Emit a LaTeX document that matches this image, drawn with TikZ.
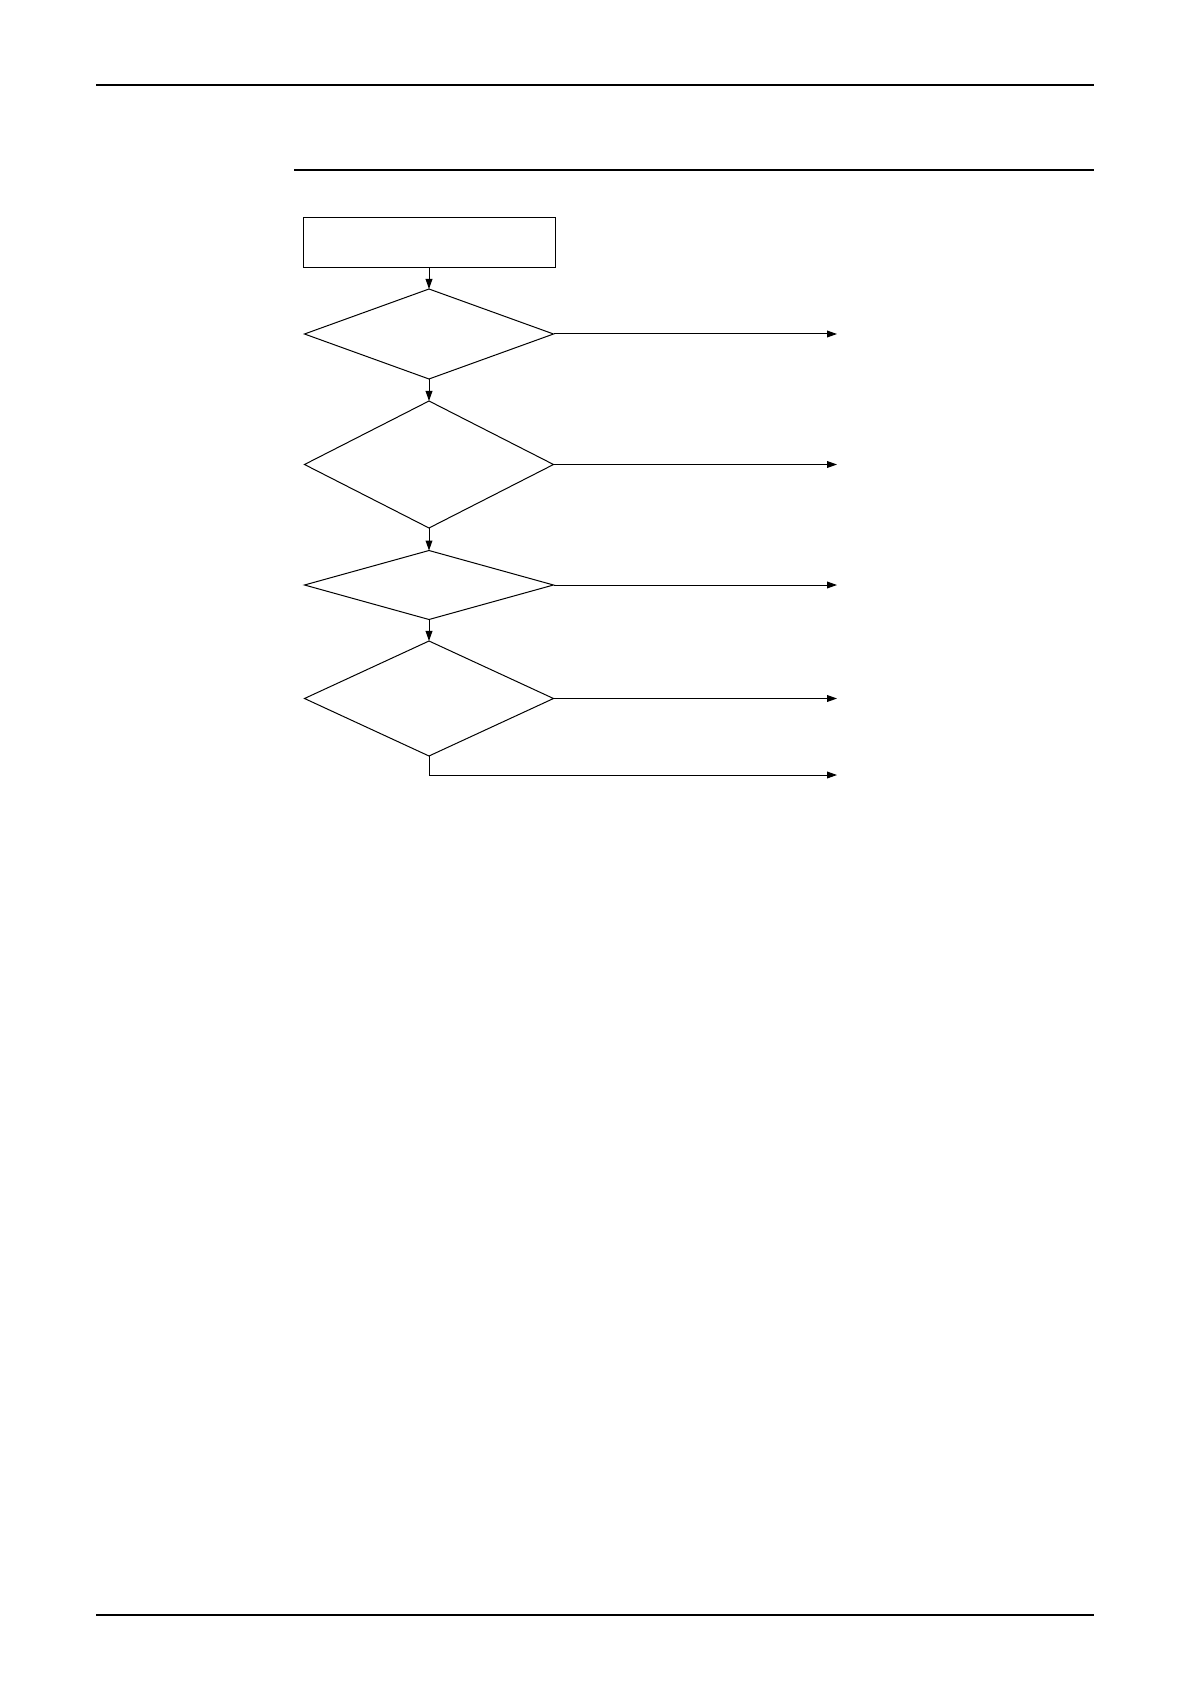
\documentclass[tikz,border=0pt]{standalone}
\usetikzlibrary{shapes.geometric,arrows.meta}
\begin{document}
\begin{tikzpicture}[x=0.5pt,y=-0.5pt,
  rule/.style={line width=0.7pt},
  flow/.style={line width=0.5pt},
  conn/.style={flow,-{Triangle[length=5pt,width=3.4pt]}},
  procbox/.style={draw,flow,rectangle,inner sep=0pt,outer sep=0pt,minimum width=126pt,minimum height=25pt},
  decision/.style={draw,flow,diamond,inner sep=0pt,outer sep=0pt,minimum width=124.5pt}]
\useasboundingbox (0,0) rectangle (1190,1684);
% page rules
\coordinate (h1a) at (96,85);  \coordinate (h1b) at (1094,85);
\coordinate (h2a) at (294,170); \coordinate (h2b) at (1094,170);
\coordinate (f1a) at (96,1615); \coordinate (f1b) at (1094,1615);
\draw[rule] (h1a) -- (h1b);
\draw[rule] (h2a) -- (h2b);
\draw[rule] (f1a) -- (f1b);
% nodes
\node[procbox] (start) at (429,243) {};
\node[decision,minimum height=45pt] (d1) at (429,334) {};
\node[decision,minimum height=63.5pt] (d2) at (429,464.5) {};
\node[decision,minimum height=34.5pt] (d3) at (429,585) {};
\node[decision,minimum height=57.5pt] (d4) at (429,698.5) {};
% free ends
\coordinate (e1) at (837,334);
\coordinate (e2) at (837,464.5);
\coordinate (e3) at (837,585);
\coordinate (e4) at (837,698.5);
\coordinate (e5) at (837,775);
% connectors
\draw[conn] (start) -- (d1);
\draw[conn] (d1) -- (d2);
\draw[conn] (d2) -- (d3);
\draw[conn] (d3) -- (d4);
\draw[conn] (d1.east) -- (e1);
\draw[conn] (d2.east) -- (e2);
\draw[conn] (d3.east) -- (e3);
\draw[conn] (d4.east) -- (e4);
\draw[conn] (d4.south) |- (e5);
\end{tikzpicture}
\end{document}
